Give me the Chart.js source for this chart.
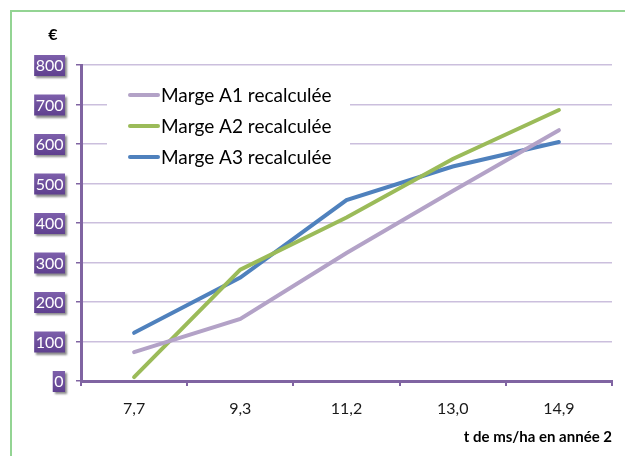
<!DOCTYPE html>
<html>
<head>
<meta charset="utf-8">
<script src="https://cdn.jsdelivr.net/npm/chart.js@4.4.1/dist/chart.umd.min.js"></script>
<style>
  html, body { margin: 0; padding: 0; background: #fff; }
  #wrap { width: 625px; height: 456px; }
</style>
</head>
<body>
<div id="wrap"><canvas id="myChart" width="625" height="456"></canvas></div>
<script>
// values
const categories = ['7,7', '9,3', '11,2', '13,0', '14,9']
const margeA1 = [73, 157, 324, 481, 635]
const margeA2 = [10, 282, 414, 562, 686]
const margeA3 = [122, 262, 458, 543, 605]
const seriesNames = ['Marge A1 recalculée', 'Marge A2 recalculée', 'Marge A3 recalculée']
const seriesColors = ['#b3a2c7', '#9bbb59', '#4f81bd']
const yUnit = '€'
const xTitle = 't de ms/ha en année 2'

const purple = '#8064a2'
const font = 'Lato, "Open Sans", sans-serif'

const decor = {
    id: 'decor',
    beforeDraw(chart) {
        const ctx = chart.ctx
        ctx.save()
        ctx.fillStyle = '#fff'
        ctx.fillRect(0, 0, chart.width, chart.height)
        // green frame
        ctx.strokeStyle = '#93d493'
        ctx.lineWidth = 2
        ctx.beginPath()
        ctx.moveTo(11, chart.height)
        ctx.lineTo(11, 11)
        ctx.lineTo(chart.width, 11)
        ctx.stroke()
        ctx.restore()
    },
    beforeDatasetsDraw(chart) {
        // legend inside the plot, white box over the grid
        const ctx = chart.ctx
        ctx.save()
        ctx.fillStyle = '#fff'
        ctx.fillRect(107, 80, 243, 92)
        ctx.font = '19px ' + font
        ctx.textBaseline = 'middle'
        ctx.lineCap = 'round'
        chart.data.datasets.forEach((ds, i) => {
            const y = 95 + i * 31
            ctx.strokeStyle = ds.borderColor
            ctx.lineWidth = 4
            ctx.beginPath()
            ctx.moveTo(130, y)
            ctx.lineTo(158, y)
            ctx.stroke()
            ctx.fillStyle = '#000'
            ctx.fillText(ds.label, 161, y + 1)
        })
        ctx.restore()
    },
    afterDraw(chart) {
        const ctx = chart.ctx
        const yScale = chart.scales.y
        ctx.save()
        ctx.font = '16px ' + font
        ctx.textBaseline = 'middle'
        ctx.textAlign = 'center'
        yScale.ticks.forEach((t, i) => {
            const y = yScale.getPixelForTick(i)
            const label = String(t.label)
            const w = ctx.measureText(label).width + 3
            const x1 = 65 - w
            ctx.save()
            ctx.shadowColor = 'rgba(0,0,0,0.45)'
            ctx.shadowOffsetX = 2
            ctx.shadowOffsetY = 2
            ctx.shadowBlur = 2
            const g = ctx.createLinearGradient(0, y - 10, 0, y + 11)
            g.addColorStop(0, '#7d5fab')
            g.addColorStop(1, '#5f408f')
            ctx.fillStyle = g
            ctx.fillRect(x1, y - 10, w, 21)
            ctx.restore()
            ctx.fillStyle = '#fff'
            ctx.fillText(label, x1 + w / 2, y + 1)
        })
        ctx.fillStyle = '#000'
        ctx.font = 'bold 16px ' + font
        ctx.fillText(yUnit, 53, 35)
        ctx.textAlign = 'right'
        ctx.font = 'bold 15px ' + font
        ctx.fillText(xTitle, 612, 437)
        ctx.restore()
    }
}

const ctx = document.getElementById('myChart').getContext('2d')
const chart = new Chart(ctx, {
    type: 'line',
    data: {
        labels: categories,
        datasets: [
            {label: seriesNames[0], data: margeA1, borderColor: seriesColors[0]},
            {label: seriesNames[1], data: margeA2, borderColor: seriesColors[1]},
            {label: seriesNames[2], data: margeA3, borderColor: seriesColors[2]}
        ]
    },
    options: {
        responsive: false,
        animation: false,
        layout: {padding: {top: 65, right: 13, left: 0, bottom: 0}},
        elements: {
            line: {tension: 0, borderWidth: 4, borderCapStyle: 'round', fill: false},
            point: {radius: 0}
        },
        plugins: {
            legend: {display: false},
            tooltip: {enabled: false}
        },
        scales: {
            x: {
                offset: true,
                afterFit(scale) { scale.height = 75 },
                grid: {
                    offset: true,
                    drawOnChartArea: false,
                    color: purple,
                    lineWidth: 2,
                    tickLength: 5
                },
                border: {color: purple, width: 3},
                ticks: {
                    color: '#1a1a1a',
                    padding: 13,
                    font: {family: font, size: 16}
                }
            },
            y: {
                min: 0,
                max: 800,
                afterFit(scale) { scale.width = 81 },
                grid: {
                    color: '#cbbfdd',
                    lineWidth: 1.5,
                    tickColor: purple,
                    tickLength: 5
                },
                border: {color: purple, width: 3},
                ticks: {stepSize: 100, display: false}
            }
        }
    },
    plugins: [decor]
})
</script>
</body>
</html>
